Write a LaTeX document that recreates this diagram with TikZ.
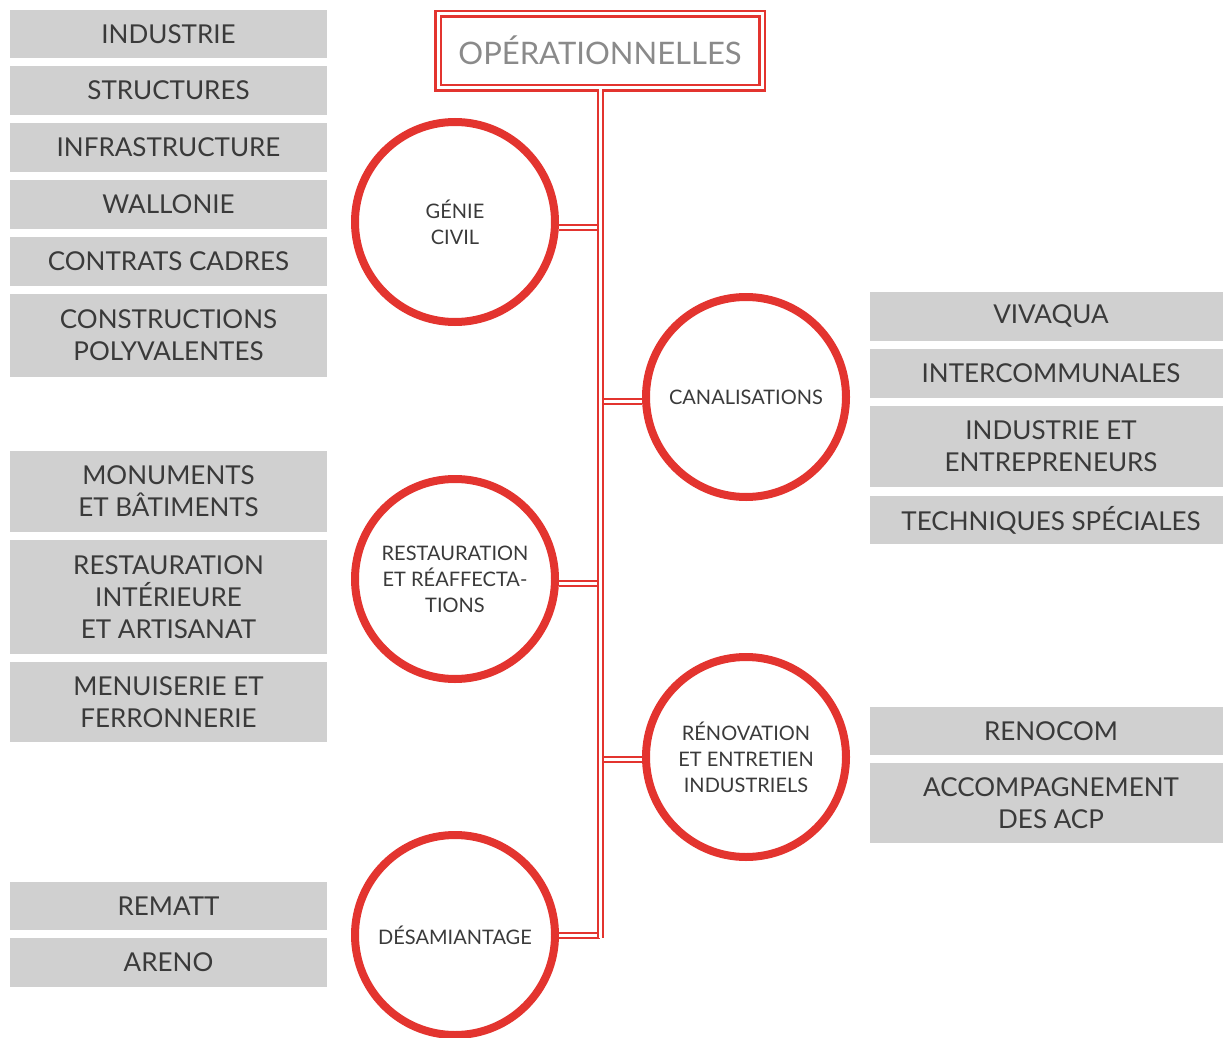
\documentclass[tikz,border=0pt]{standalone}
\usepackage{fontspec}
\setmainfont{Lato}
\usepackage{tikz}
\usetikzlibrary{positioning}

\definecolor{ored}{RGB}{227,52,47}
\definecolor{boxgray}{RGB}{208,208,208}
\definecolor{txt}{RGB}{58,58,58}
\definecolor{ttl}{RGB}{138,138,138}

\begin{document}
\begin{tikzpicture}[x=1pt,y=-1pt,
  sub/.style={fill=boxgray,text=txt,inner sep=0pt,align=center,font=\fontsize{26}{32}\selectfont},
  left/.style={sub,minimum width=317pt},
  right/.style={sub,minimum width=362pt},
  hub/.style={circle,draw=ored,line width=8pt,minimum size=200pt,inner sep=0pt,align=center,text=txt,font=\fontsize{20}{26}\selectfont},
  link/.style={draw=ored,double=white,line width=2pt,double distance=3pt},
  head/.style={draw=ored,double=white,line width=2.5pt,double distance=3pt,minimum width=324pt,minimum height=74pt,text=ttl,font=\fontsize{31}{36}\selectfont}]
  \useasboundingbox (0,0) rectangle (1223,1038);

  % title
  \node [head] (top) at (600,51) {\raisebox{2pt}{OPÉRATIONNELLES}};

  % circles
  \node [hub] (gc) at (455,222) {GÉNIE\\CIVIL};
  \node [hub] (can) at (746,397) {CANALISATIONS};
  \node [hub] (res) at (455,579) {RESTAURATION\\ET RÉAFFECTA-\\TIONS};
  \node [hub] (ren) at (746,757) {RÉNOVATION\\ET ENTRETIEN\\INDUSTRIELS};
  \node [hub] (des) at (455,935) {DÉSAMIANTAGE};

  % boxes, left
  \node [left,minimum height=48pt] (gc1) at (168.5,34) {INDUSTRIE};
  \node [left,minimum height=49pt] (gc2) at (168.5,90.5) {STRUCTURES};
  \node [left,minimum height=49pt] (gc3) at (168.5,147.5) {INFRASTRUCTURE};
  \node [left,minimum height=49pt] (gc4) at (168.5,204.5) {WALLONIE};
  \node [left,minimum height=49pt] (gc5) at (168.5,261.5) {CONTRATS CADRES};
  \node [left,minimum height=83pt] (gc6) at (168.5,335.5) {CONSTRUCTIONS\\POLYVALENTES};
  \node [left,minimum height=81pt] (res1) at (168.5,491.5) {MONUMENTS\\ET BÂTIMENTS};
  \node [left,minimum height=114pt] (res2) at (168.5,597) {RESTAURATION\\INTÉRIEURE\\ET ARTISANAT};
  \node [left,minimum height=80pt] (res3) at (168.5,702) {MENUISERIE ET\\FERRONNERIE};
  \node [left,minimum height=48pt] (des1) at (168.5,906) {REMATT};
  \node [left,minimum height=49pt] (des2) at (168.5,962.5) {ARENO};

  % boxes, right
  \node [right,minimum height=49pt] (can1) at (1051,316.5) {VIVAQUA};
  \node [right,minimum height=49pt] (can2) at (1051,373.5) {INTERCOMMUNALES};
  \node [right,minimum height=81pt] (can3) at (1051,446.5) {INDUSTRIE ET\\ENTREPRENEURS};
  \node [right,minimum height=48pt] (can4) at (1051,520) {TECHNIQUES SPÉCIALES};
  \node [right,minimum height=48pt] (ren1) at (1051,731) {RENOCOM};
  \node [right,minimum height=80pt] (ren2) at (1051,803) {ACCOMPAGNEMENT\\DES ACP};

  % spine
  \coordinate (end) at (600,938);
  \draw [link] ([yshift=-5pt]gc.east) -- ([yshift=-5pt]gc.east -| end);
  \draw [link] ([yshift=-4pt]can.west) -- ([yshift=-4pt]can.west -| end);
  \draw [link] ([yshift=-4pt]res.east) -- ([yshift=-4pt]res.east -| end);
  \draw [link] ([yshift=-2pt]ren.west) -- ([yshift=-2pt]ren.west -| end);
  \draw [link] (des.east) -- (des.east -| end);
  \draw [link] (top.south) -- (end);
\end{tikzpicture}
\end{document}
